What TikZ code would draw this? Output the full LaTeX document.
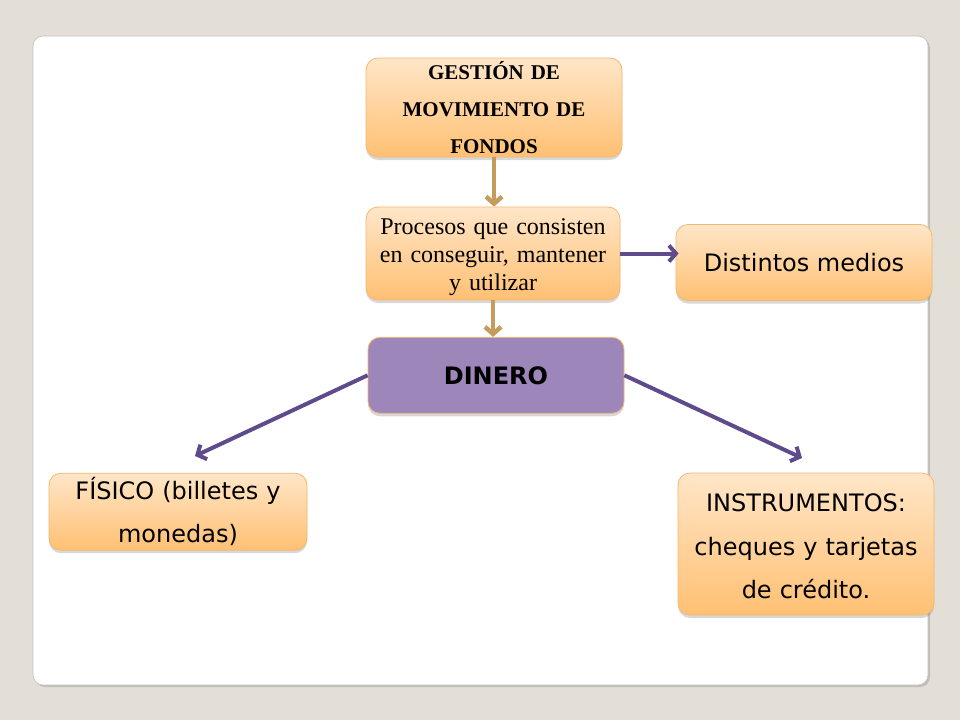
\documentclass[tikz,border=0pt]{standalone}
\usepackage{fontspec}
\setmainfont{Liberation Serif}
\newfontfamily\verd{DejaVu Sans}
\usetikzlibrary{arrows.meta,shadows,calc}

\definecolor{bgc}{RGB}{228,223,214}
\definecolor{orTop}{RGB}{255,230,200}
\definecolor{orBot}{RGB}{255,192,115}
\definecolor{orLine}{RGB}{242,184,110}
\definecolor{goldc}{RGB}{196,156,92}
\definecolor{purp}{RGB}{95,75,139}
\definecolor{dinfill}{RGB}{157,134,185}

\tikzset{
  obox/.style={rounded corners=12pt, draw=orLine, line width=0.8pt,
    top color=orTop, bottom color=orBot,
    drop shadow={shadow xshift=0pt, shadow yshift=-3pt, opacity=0.3},
    align=center, inner xsep=4pt, inner ysep=0pt},
  dbox/.style={rounded corners=12pt, draw=orLine, line width=0.8pt,
    fill=dinfill,
    drop shadow={shadow xshift=0pt, shadow yshift=-3pt, opacity=0.3},
    align=center, inner xsep=4pt, inner ysep=0pt},
  sansfont/.style={font=\verd\fontsize{24}{43.3}\selectfont},
  lift/.style={execute at end node={\par\kern#1\hrule height 0pt width 0pt}},
  garrow/.style={draw=goldc, line width=4.5pt, -{Straight Barb[length=7pt,width=16pt]}},
  parrow/.style={draw=purp, line width=4pt, -{Straight Barb[length=7pt,width=16pt]}}
}

\begin{document}
\begin{tikzpicture}[x=1pt,y=-1pt]
\fill[bgc] (0,0) rectangle (960,720);
\useasboundingbox (0,0) rectangle (960,720);

% panel
\path[fill=white, draw=black!25, line width=0.6pt, rounded corners=10pt,
  drop shadow={shadow xshift=2pt, shadow yshift=-2pt, opacity=0.35}]
  (33,36) rectangle (928,685);

% boxes
\node[obox, minimum width=256pt, minimum height=99pt, text width=248pt,
  font=\fontsize{21}{37}\selectfont\bfseries] (gest) at (494,107.5)
  {GESTIÓN DE\\MOVIMIENTO DE\\FONDOS};

\node[obox, minimum width=254pt, minimum height=93pt, text width=246pt,
  font=\fontsize{24}{28}\selectfont, lift=-8pt] (proc) at (493,253.5)
  {Procesos que consisten\\en conseguir, mantener\\y utilizar};

\node[dbox, minimum width=256pt, minimum height=76pt,
  font=\verd\bfseries\fontsize{24}{30}\selectfont] (din) at (496,375.3) {DINERO};

\node[obox, sansfont, minimum width=256pt, minimum height=76pt] (dist) at (804,262.5)
  {Distintos medios};

\node[obox, sansfont, minimum width=258pt, minimum height=77pt, text width=250pt]
  (fis) at (178,511.7) {FÍSICO (billetes y\\monedas)};

\node[obox, sansfont, minimum width=256pt, minimum height=142pt, text width=248pt,
  lift=-4.6pt] (inst) at (806,544) {INSTRUMENTOS:\\cheques y tarjetas\\de crédito.};

% connectors
\coordinate (fisTip) at (195,456);
\coordinate (instTip) at (802,458);

\draw[garrow] (gest.south) -- (gest.south |- proc.north);
\draw[garrow] (proc.south) -- (proc.south |- din.north);
\draw[parrow] (proc.east) -- ($(proc.east -| dist.west)+(3,0)$);
\draw[parrow] (din.west) -- (fisTip);
\draw[parrow] (din.east) -- (instTip);
\end{tikzpicture}
\end{document}
